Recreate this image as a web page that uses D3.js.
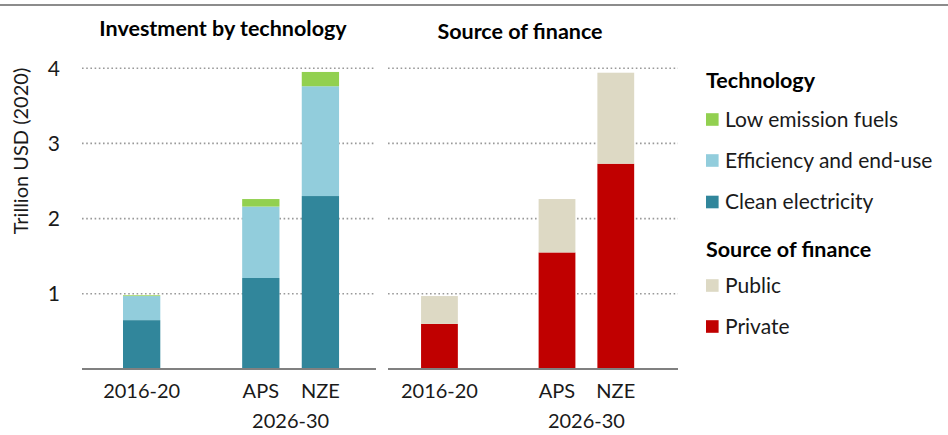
<!DOCTYPE html>
<html>
<head>
<meta charset="utf-8">
<script src="https://cdn.jsdelivr.net/npm/d3@7"></script>
<style>
  html, body { margin: 0; padding: 0; background: #fff; }
  svg { display: block; font-family: Lato, "Open Sans", sans-serif; }
</style>
</head>
<body>
<svg id="chart" width="948" height="435"></svg>
<script>
// ---- data ----
const categories = ["2016-20", "gap", "APS", "NZE"];
const categoryLabels = ["2016-20", "", "APS", "NZE"];
const groupLabel = "2026-30";
const techSeries = ["Clean electricity", "Efficiency and end-use", "Low emission fuels"];
const cleanElectricity = [0.65, 0, 1.21, 2.30];
const efficiencyEndUse = [0.32, 0, 0.95, 1.46];
const lowEmissionFuels = [0.01, 0, 0.10, 0.19];
const financeSeries = ["Private", "Public"];
const privateFinance = [0.60, 0, 1.55, 2.73];
const publicFinance = [0.37, 0, 0.71, 1.21];
const yTicks = [1, 2, 3, 4];
const techColors = ["#31869b", "#92cddc", "#92d050"];
const financeColors = ["#c00000", "#ddd9c4"];

const svg = d3.select("#chart");
const W = 948;
const txt = "#1a1a1a";

// top rule
svg.append("line").attr("x1", 0).attr("x2", W).attr("y1", 5).attr("y2", 5)
  .attr("stroke", "#8c8c8c").attr("stroke-width", 2);

const y = d3.scaleLinear().domain([0, 4]).range([369, 68.2]);

function panel(x0, x1, align, title, titleX, titleY, seriesValues, colors) {
  const g = svg.append("g");
  const x = d3.scaleBand().domain(categories).range([x0, x1])
    .paddingInner(0.374).paddingOuter(0.654).align(align);

  // grid
  g.selectAll("line.grid").data(yTicks).join("line")
    .attr("x1", x0).attr("x2", x1)
    .attr("y1", d => y(d)).attr("y2", d => y(d))
    .attr("stroke", "#999").attr("stroke-width", 1.6)
    .attr("stroke-dasharray", "1.6 2.6");

  // stacked bars
  const rows = categories.map((c, i) => {
    const o = { cat: c };
    seriesValues.forEach((s, j) => o["s" + j] = s[i]);
    return o;
  });
  const keys = seriesValues.map((s, j) => "s" + j);
  const stacked = d3.stack().keys(keys)(rows);
  stacked.forEach((layer, j) => {
    g.selectAll(null).data(layer.filter(d => d[1] - d[0] > 0)).join("rect")
      .attr("x", d => x(d.data.cat))
      .attr("width", x.bandwidth())
      .attr("y", d => y(d[1]))
      .attr("height", d => y(d[0]) - y(d[1]))
      .attr("fill", colors[j]);
  });

  // baseline
  g.append("line").attr("x1", x0).attr("x2", x1)
    .attr("y1", y(0)).attr("y2", y(0))
    .attr("stroke", "#808080").attr("stroke-width", 1.8);

  // category labels
  categories.forEach((c, i) => {
    if (!categoryLabels[i]) return;
    g.append("text").attr("x", x(c) + x.bandwidth() / 2).attr("y", 398)
      .attr("text-anchor", "middle").attr("font-size", 20).attr("fill", txt)
      .text(categoryLabels[i]);
  });
  const gx = (x("APS") + x("NZE") + x.bandwidth()) / 2;
  g.append("text").attr("x", gx).attr("y", 428)
    .attr("text-anchor", "middle").attr("font-size", 20).attr("fill", txt)
    .text(groupLabel);

  // title
  g.append("text").attr("x", titleX).attr("y", titleY)
    .attr("text-anchor", "middle").attr("font-size", 21.5).attr("font-weight", "bold")
    .attr("fill", "#000").text(title);
  return x;
}

panel(82, 376, 0.526, "Investment by technology", 223, 36,
  [cleanElectricity, efficiencyEndUse, lowEmissionFuels], techColors);
panel(388, 678, 0.43, "Source of finance", 520, 39,
  [privateFinance, publicFinance], financeColors);

// y tick labels
svg.selectAll("text.ytick").data(yTicks).join("text")
  .attr("x", 60).attr("y", d => y(d)).attr("dy", "0.35em")
  .attr("text-anchor", "end").attr("font-size", 21).attr("fill", txt)
  .text(d => d);

// y axis title
svg.append("text").attr("transform", "translate(28,151) rotate(-90)")
  .attr("text-anchor", "middle").attr("font-size", 20).attr("fill", txt)
  .text("Trillion USD (2020)");

// legend
const legend = svg.append("g");
legend.append("text").attr("x", 706).attr("y", 88).attr("font-size", 21.5)
  .attr("font-weight", "bold").text("Technology");
const techLegend = [
  { name: "Low emission fuels", color: techColors[2], cy: 119.5 },
  { name: "Efficiency and end-use", color: techColors[1], cy: 160.5 },
  { name: "Clean electricity", color: techColors[0], cy: 202 }
];
legend.append("text").attr("x", 706).attr("y", 257).attr("font-size", 21.5)
  .attr("font-weight", "bold").text("Source of finance");
const finLegend = [
  { name: "Public", color: financeColors[1], cy: 285.5 },
  { name: "Private", color: financeColors[0], cy: 326.5 }
];
techLegend.concat(finLegend).forEach(d => {
  legend.append("rect").attr("x", 706).attr("y", d.cy - 6.3).attr("width", 12.6).attr("height", 12.6)
    .attr("fill", d.color);
  legend.append("text").attr("x", 725).attr("y", d.cy).attr("dy", "0.35em")
    .attr("font-size", 21).attr("fill", txt).text(d.name);
});
</script>
</body>
</html>
